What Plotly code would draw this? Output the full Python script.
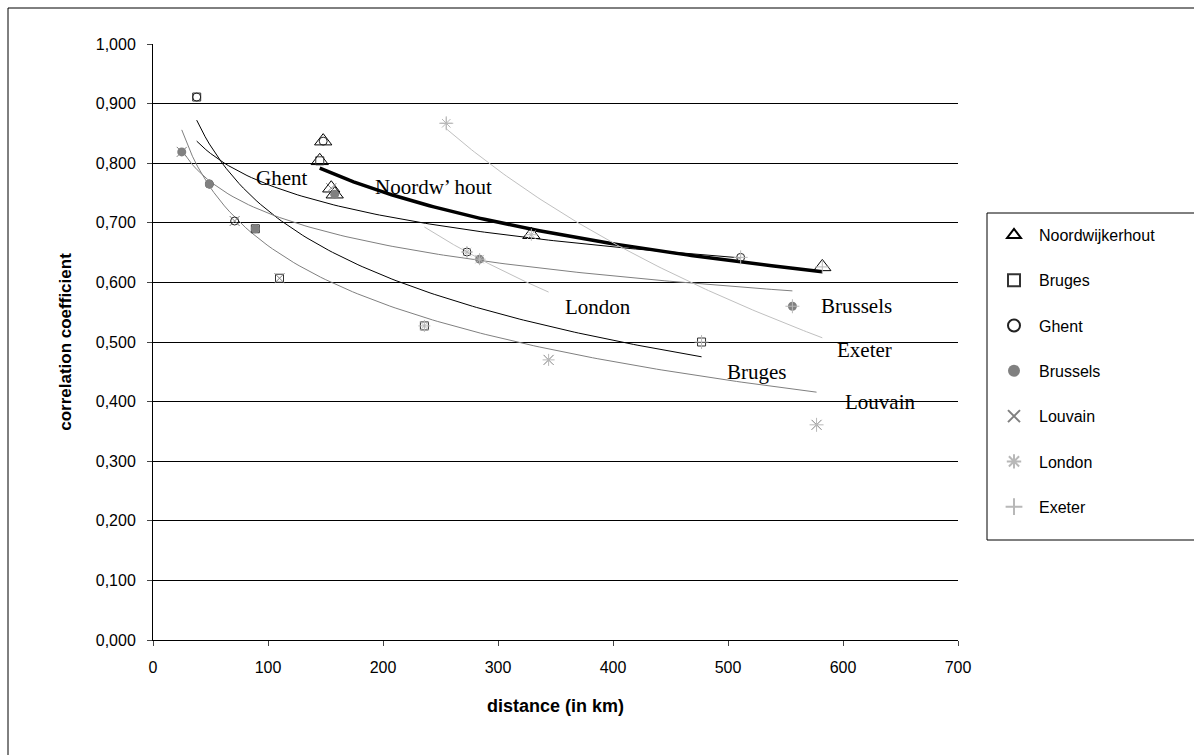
import numpy as np
import plotly.graph_objects as go

# ---- data: one entry per pair of cities (distance in km, correlation coefficient)
pair_city_a = ["Bruges", "Ghent", "Brussels", "Ghent", "Bruges", "Bruges",
               "Noordwijkerhout", "Noordwijkerhout", "Noordwijkerhout", "Noordwijkerhout",
               "Bruges", "Ghent", "Brussels", "Noordwijkerhout", "Louvain",
               "London", "Bruges", "Ghent", "Brussels", "Louvain", "Noordwijkerhout"]
pair_city_b = ["Ghent", "Brussels", "Louvain", "Louvain", "Brussels", "Louvain",
               "Bruges", "Ghent", "Louvain", "Brussels",
               "London", "London", "London", "London", "London",
               "Exeter", "Exeter", "Exeter", "Exeter", "Exeter", "Exeter"]
distance_km = [38, 49, 25, 71, 89, 110,
               145, 148, 155, 158,
               236, 273, 284, 329, 344,
               255, 477, 511, 556, 577, 582]
correlation = [0.911, 0.765, 0.819, 0.703, 0.690, 0.607,
               0.804, 0.837, 0.758, 0.748,
               0.527, 0.651, 0.639, 0.680, 0.470,
               0.867, 0.500, 0.642, 0.560, 0.361, 0.626]

cities = ["Noordwijkerhout", "Bruges", "Ghent", "Brussels", "Louvain", "London", "Exeter"]
trend_labels = ["Noordw\u2019 hout", "Bruges", "Ghent", "Brussels", "Louvain", "London", "Exeter"]
label_x = [244, 525, 112, 612, 632, 387, 619]
label_y = [0.760, 0.450, 0.776, 0.560, 0.399, 0.559, 0.487]
y_ticks = [0.0, 0.1, 0.2, 0.3, 0.4, 0.5, 0.6, 0.7, 0.8, 0.9, 1.0]
x_ticks = [0, 100, 200, 300, 400, 500, 600, 700]

# ---- styles
marker_style = {
    "Noordwijkerhout": dict(symbol="triangle-up-open", size=15, color="black", line=dict(color="black", width=1)),
    "Bruges": dict(symbol="square-open", size=8, color="#333333", line=dict(color="#333333", width=1)),
    "Ghent": dict(symbol="circle-open", size=8, color="#222222", line=dict(color="#222222", width=1)),
    "Brussels": dict(symbol="circle", size=9, color="#808080", line=dict(color="#808080", width=0)),
    "Louvain": dict(symbol="x-thin-open", size=10, color="#808080", line=dict(color="#808080", width=1)),
    "London": dict(symbol="asterisk-open", size=10, color="#b8b8b8", line=dict(color="#b8b8b8", width=1)),
    "Exeter": dict(symbol="cross-thin-open", size=10, color="#b8b8b8", line=dict(color="#b8b8b8", width=1)),
}
trend_style = {
    "Noordwijkerhout": dict(color="black", width=3.5),
    "Bruges": dict(color="black", width=1),
    "Ghent": dict(color="black", width=1),
    "Brussels": dict(color="#808080", width=1),
    "Louvain": dict(color="#808080", width=1),
    "London": dict(color="#c0c0c0", width=1),
    "Exeter": dict(color="#c0c0c0", width=1),
}

a = np.array(pair_city_a)
b = np.array(pair_city_b)
d = np.array(distance_km, dtype=float)
r = np.array(correlation, dtype=float)

fig = go.Figure()

# logarithmic trendlines y = k*ln(x) + c, least squares (as a spreadsheet does)
for c in cities:
    m = (a == c) | (b == c)
    xs, ys = d[m], r[m]
    k, c0 = np.polyfit(np.log(xs), ys, 1)
    xt = np.linspace(xs.min(), xs.max(), 120)
    yt = k * np.log(xt) + c0
    fig.add_trace(go.Scatter(x=xt, y=yt, mode="lines", line=trend_style[c],
                             showlegend=False, hoverinfo="skip"))

# markers
for c in cities:
    m = (a == c) | (b == c)
    fig.add_trace(go.Scatter(x=d[m], y=r[m], mode="markers", name=c,
                             legendgroup=c, marker=marker_style[c]))

# trend labels
for t, lx, ly in zip(trend_labels, label_x, label_y):
    fig.add_annotation(x=lx, y=ly, text=t, showarrow=False,
                       font=dict(family="Liberation Serif", size=21, color="black"),
                       xanchor="center", yanchor="middle")

def px_x(p):
    return (p - 153) / 805

def px_y(p):
    return (640 - p) / 596

# outer chart border (runs off the right and bottom edges)
fig.add_shape(type="rect", xref="paper", yref="paper",
              x0=px_x(8), x1=px_x(1210), y0=px_y(770), y1=px_y(8),
              line=dict(color="black", width=1), fillcolor="rgba(0,0,0,0)", layer="below")
# legend frame
fig.add_shape(type="rect", xref="paper", yref="paper",
              x0=px_x(987), x1=px_x(1205), y0=px_y(540), y1=px_y(213),
              line=dict(color="black", width=1), fillcolor="white", layer="below")

fig.update_layout(
    width=1194, height=755,
    margin=dict(l=153, r=236, t=44, b=115),
    paper_bgcolor="white", plot_bgcolor="white",
    separators=",.",
    font=dict(family="Liberation Sans, Arial", size=16, color="black"),
    showlegend=True,
    legend=dict(x=px_x(989), y=px_y(218), xanchor="left", yanchor="top",
                borderwidth=0, bgcolor="rgba(0,0,0,0)",
                font=dict(size=16), tracegroupgap=21.5, itemsizing="constant",
                itemwidth=40),
    xaxis=dict(range=[0, 700], tickvals=x_ticks, ticks="outside", ticklen=5,
               showgrid=False, zeroline=False, showline=True, linecolor="black",
               ticklabelstandoff=8,
               title=dict(text="<b>distance (in km)</b>", font=dict(size=18), standoff=24),
               tickfont=dict(size=16)),
    yaxis=dict(range=[0, 1.0], tickvals=y_ticks, tickformat=".3f", ticks="outside", ticklen=5,
               showgrid=True, gridcolor="black", gridwidth=1, zeroline=False,
               showline=True, linecolor="black", ticklabelstandoff=8,
               title=dict(text="<b>correlation coefficient</b>", font=dict(size=17), standoff=19),
               tickfont=dict(size=16)),
)

fig.write_html("out.html", config={"displayModeBar": False},
               post_script="document.body.style.margin='0px';")
